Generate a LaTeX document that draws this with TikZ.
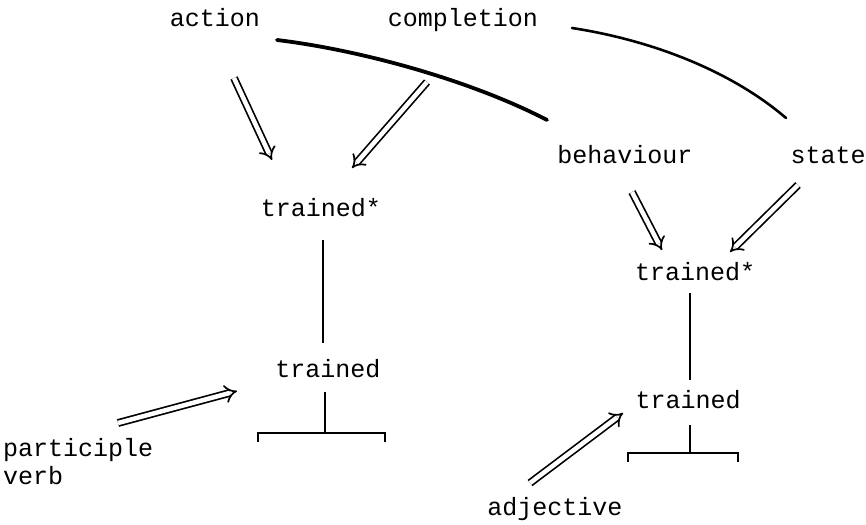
\documentclass[tikz,border=0pt]{standalone}
\usepackage{fontspec}
\setmainfont{Liberation Mono}
\usetikzlibrary{arrows.meta}
\begin{document}
\begin{tikzpicture}[x=1pt,y=-1pt,
  lbl/.style={inner sep=0pt, anchor=base, font=\fontsize{25}{30}\selectfont},
  dbl/.style={double, double distance=4.5pt, line width=1.7pt, -{Implies[scale=1.4]}},
  stroke/.style={line width=2.2pt},
  arc/.style={line width=3.8pt, line cap=round}]
\useasboundingbox (0,0) rectangle (866,524);
% words
\node[lbl] (action) at (215,27) {action};
\node[lbl] (completion) at (463,27) {completion};
\node[lbl] (behaviour) at (625,163) {behaviour};
\node[lbl] (state) at (828,163) {state};
\node[lbl] (tsL) at (321,216) {trained*};
\node[lbl] (tL) at (328,377) {trained};
\node[lbl] (tsR) at (695,280) {trained*};
\node[lbl] (tR) at (688,408) {trained};
\node[lbl, anchor=base west] (part) at (3,456) {participle};
\node[lbl, anchor=base west] (verb) at (3,484) {verb};
\node[lbl] (adj) at (555,515) {adjective};
% arcs
\coordinate (c1s) at (277,40);
\coordinate (c1e) at (547,120);
\coordinate (c2s) at (572,28);
\coordinate (c2e) at (786,118);
\draw[arc] (c1s) .. controls (360,50) and (470,80) .. (c1e);
\draw[arc, line width=2.6pt] (c2s) .. controls (650,40) and (730,70) .. (c2e);
% double arrows
\coordinate (a1s) at (234,78);  \coordinate (a1e) at (272,160);
\coordinate (a2s) at (427,82);  \coordinate (a2e) at (352,168);
\coordinate (a3s) at (632,192); \coordinate (a3e) at (662,250);
\coordinate (a4s) at (798,185); \coordinate (a4e) at (730,252);
\coordinate (a5s) at (118,423); \coordinate (a5e) at (237,391);
\coordinate (a6s) at (530,483); \coordinate (a6e) at (623,413);
\draw[dbl] (a1s) -- (a1e);
\draw[dbl] (a2s) -- (a2e);
\draw[dbl] (a3s) -- (a3e);
\draw[dbl] (a4s) -- (a4e);
\draw[dbl] (a5s) -- (a5e);
\draw[dbl] (a6s) -- (a6e);
% verticals
\coordinate (vL1) at (323,240); \coordinate (vL2) at (323,343);
\coordinate (vR1) at (690,293); \coordinate (vR2) at (690,380);
\draw[stroke] (vL1) -- (vL2);
\draw[stroke] (vR1) -- (vR2);
% brackets
\coordinate (bL1) at (325,392); \coordinate (bL2) at (325,433);
\coordinate (bLa) at (258,442); \coordinate (bLb) at (385,442);
\draw[stroke] (bL1) -- (bL2);
\draw[stroke] (bLa) -- ++(0,-9) -- ++(127,0) -- (bLb);
\coordinate (bR1) at (690,425); \coordinate (bR2) at (690,453);
\coordinate (bRa) at (628,462); \coordinate (bRb) at (738,462);
\draw[stroke] (bR1) -- (bR2);
\draw[stroke] (bRa) -- ++(0,-9) -- ++(110,0) -- (bRb);
\end{tikzpicture}
\end{document}
